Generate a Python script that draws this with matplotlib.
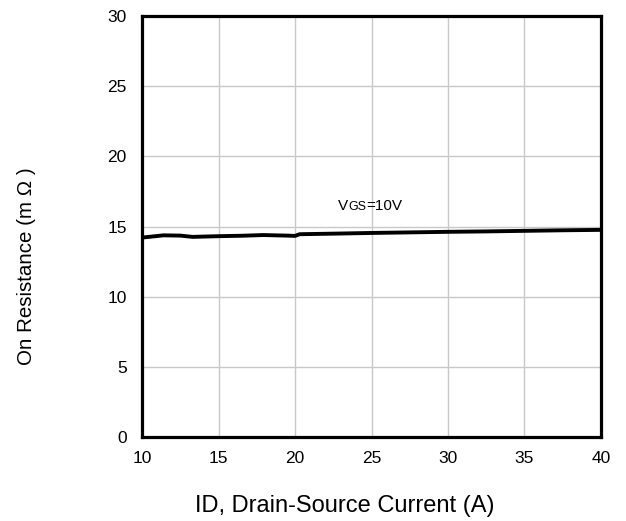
"""On resistance vs drain current at VGS=10V."""

import matplotlib
matplotlib.use("Agg")
import matplotlib.pyplot as plt
from matplotlib.offsetbox import TextArea, HPacker, AnnotationBbox

plt.rcParams["font.family"] = ["Liberation Sans", "DejaVu Sans"]

# data
current_a = [10, 11.4, 12.5, 13.3, 15, 16.5, 17.9, 19.5, 20, 20.3, 22.5, 25,
             27.5, 30, 32.5, 35, 37.5, 40]
ron_mohm = [14.22, 14.38, 14.36, 14.27, 14.32, 14.35, 14.4, 14.36, 14.34, 14.46,
            14.5, 14.55, 14.59, 14.63, 14.66, 14.7, 14.74, 14.77]

x_ticks = [10, 15, 20, 25, 30, 35, 40]
y_ticks = [0, 5, 10, 15, 20, 25, 30]

fig = plt.figure(figsize=(6.26, 5.21), dpi=100)
ax = fig.add_axes([0.227, 0.161, 0.733, 0.808])

ax.plot(current_a, ron_mohm, color="black", lw=2.8, solid_capstyle="butt")

ax.set_xlim(10, 40)
ax.set_ylim(0, 30)
ax.set_xticks(x_ticks)
ax.set_yticks(y_ticks)
ax.grid(True, color="#c8c8c8", lw=1.0)
ax.set_axisbelow(True)
ax.tick_params(length=0, labelsize=12.5, pad=10)
ax.tick_params(axis="y", pad=11)
for sp in ax.spines.values():
    sp.set_linewidth(2.3)

fig.text(345 / 626, 1 - 506 / 521, "ID, Drain-Source Current (A)",
         ha="center", va="center", fontsize=17)
fig.text(27 / 626, 1 - 266 / 521, "On Resistance (m \u03a9 )",
         ha="center", va="center", rotation=90, fontsize=14.8)

# VGS label with smaller subscript letters on the same baseline
label = HPacker(children=[TextArea("V", textprops=dict(size=11)),
                          TextArea("GS", textprops=dict(size=9)),
                          TextArea("=10V", textprops=dict(size=11))],
                align="baseline", pad=0, sep=0)
ax.add_artist(AnnotationBbox(label, (24.9, 16.5), frameon=False,
                             box_alignment=(0.5, 0.5)))

fig.savefig("out.png", dpi=100)
